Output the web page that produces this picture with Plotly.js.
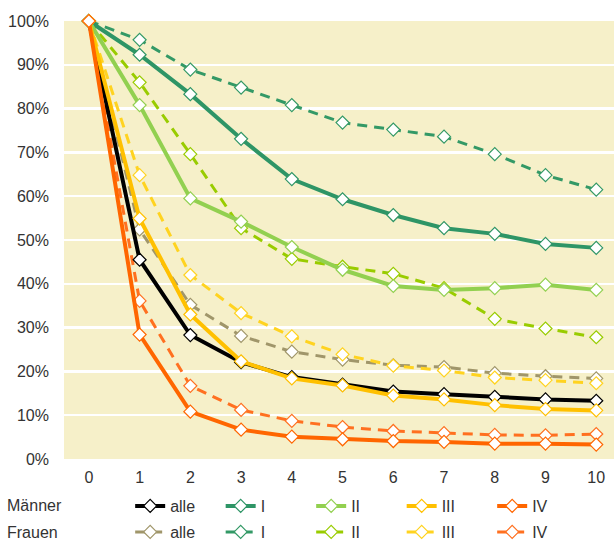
<!DOCTYPE html>
<html>
<head>
<meta charset="utf-8">
<script src="https://cdn.plot.ly/plotly-3.0.1.min.js"></script>
<style>html,body{margin:0;padding:0;background:#fff;}#chart{width:614px;height:540px;}</style>
</head>
<body>
<div id="chart"></div>
<script>
const years = [0,1,2,3,4,5,6,7,8,9,10];
const tickLabels = ["0%","10%","20%","30%","40%","50%","60%","70%","80%","90%","100%"];
const tickValues = [0,10,20,30,40,50,60,70,80,90,100];
const seriesNames = ["alle","I","II","III","IV"];

const maennerAlle = [100,45.5,28.3,22.1,18.7,17.0,15.4,14.8,14.2,13.6,13.3];
const maennerI    = [100,92.3,83.3,73.1,63.9,59.3,55.7,52.7,51.4,49.1,48.2];
const maennerII   = [100,80.8,59.5,54.2,48.4,43.2,39.5,38.6,39.0,39.8,38.6];
const maennerIII  = [100,54.9,33.0,22.3,18.4,16.8,14.5,13.6,12.3,11.4,11.1];
const maennerIV   = [100,28.4,10.8,6.7,5.1,4.5,4.1,3.9,3.5,3.5,3.3];

const frauenAlle = [100,52.4,35.2,28.1,24.5,22.7,21.4,21.0,19.6,18.9,18.4];
const frauenI    = [100,95.7,88.9,84.8,80.8,76.8,75.2,73.6,69.6,64.8,61.5];
const frauenII   = [100,86.0,69.6,52.7,45.7,43.9,42.3,39.0,32.0,29.8,27.8];
const frauenIII  = [100,64.8,42.0,33.3,28.0,23.9,21.3,20.2,18.6,18.0,17.3];
const frauenIV   = [100,36.1,16.7,11.2,8.7,7.3,6.4,5.9,5.5,5.4,5.7];

const maennerColors = ["#000000","#2E9566","#92D050","#FFC000","#FF6600"];
const frauenColors  = ["#A0966A","#339966","#99CC00","#FFD320","#FF7020"];

const maenner = [maennerAlle,maennerI,maennerII,maennerIII,maennerIV];
const frauen  = [frauenAlle,frauenI,frauenII,frauenIII,frauenIV];

const traces = [];
frauen.forEach((vals,i)=>{
  traces.push({
    x: years, y: vals, name: seriesNames[i], type:'scatter', mode:'lines+markers',
    legend:'legend2', cliponaxis:false,
    line:{color:frauenColors[i], width:3, dash:'10px,7px'},
    marker:{symbol:'diamond', size:10, color:'#ffffff', line:{color:frauenColors[i], width:1.2}}
  });
});
maenner.forEach((vals,i)=>{
  traces.push({
    x: years, y: vals, name: seriesNames[i], type:'scatter', mode:'lines+markers',
    legend:'legend', cliponaxis:false,
    line:{color:maennerColors[i], width:4},
    marker:{symbol:'diamond', size:10, color:'#ffffff', line:{color:maennerColors[i], width:1.2}}
  });
});

const font = {family:'"Liberation Sans", Arial, sans-serif', size:16, color:'#333333'};

const layout = {
  width:614, height:540,
  margin:{l:64, r:0, t:21, b:81},
  paper_bgcolor:'#ffffff', plot_bgcolor:'#F6F0C9',
  font: font,
  showlegend:true,
  xaxis:{range:[-0.49,10.35], tickvals:years, ticktext:years.map(String), showgrid:false, zeroline:false,
         showline:false, ticks:'', ticklabelstandoff:7, tickfont:font, fixedrange:true},
  yaxis:{range:[0,100], tickvals:tickValues, ticktext:tickLabels, showgrid:true, gridcolor:'#ffffff', gridwidth:2.5,
         zeroline:false, showline:false, ticks:'', ticklabelstandoff:14, tickfont:font, fixedrange:true},
  legend:{orientation:'h', xref:'container', yref:'container', x:0.212, xanchor:'left', y:0.063, yanchor:'middle',
          entrywidth:45.5, entrywidthmode:'pixels',
          traceorder:'normal', bgcolor:'rgba(0,0,0,0)', font:font, itemclick:false, itemdoubleclick:false},
  legend2:{orientation:'h', xref:'container', yref:'container', x:0.212, xanchor:'left', y:0.0148, yanchor:'middle',
          entrywidth:45.5, entrywidthmode:'pixels',
          traceorder:'normal', bgcolor:'rgba(0,0,0,0)', font:font, itemclick:false, itemdoubleclick:false},
  annotations:[
    {text:'Männer', xref:'paper', yref:'paper', x:-0.108, y:-0.1073, xanchor:'left', yanchor:'middle', showarrow:false, font:font},
    {text:'Frauen', xref:'paper', yref:'paper', x:-0.108, y:-0.1667, xanchor:'left', yanchor:'middle', showarrow:false, font:font}
  ]
};

Plotly.newPlot('chart', traces, layout, {displayModeBar:false, staticPlot:true});
</script>
</body>
</html>
